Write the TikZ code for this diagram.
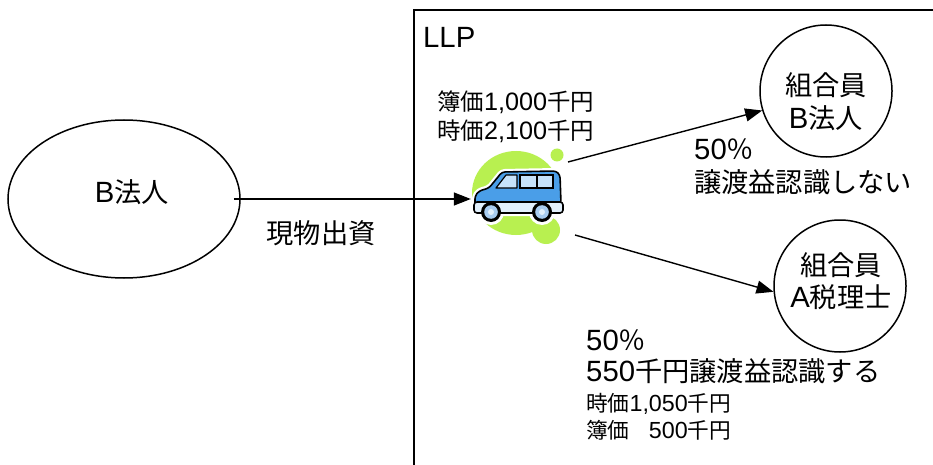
\documentclass[tikz,border=0pt]{standalone}
\usepackage{fontspec}
\setmainfont{Liberation Sans}
\newfontfamily\jp[Scale=0.93]{Noto Sans CJK JP}
\newcommand\J[1]{{\jp #1}}
\usetikzlibrary{shapes.geometric,arrows.meta}

\definecolor{carblue}{RGB}{74,158,232}
\definecolor{glass}{RGB}{198,226,250}
\definecolor{trim}{RGB}{226,240,252}
\definecolor{wheelhub}{RGB}{168,204,240}
\definecolor{leaf}{RGB}{184,240,80}

\tikzset{
  member/.style={circle, draw, line width=1.5pt, minimum size=132, inner sep=0},
  party/.style={ellipse, draw, line width=1.5pt, minimum width=232, minimum height=158, inner sep=0},
  lbl/.style={inner sep=0, font=\fontsize{29.3}{33}\selectfont},
  sml/.style={inner sep=0, font=\fontsize{25.2}{29}\selectfont},
  tiny/.style={inner sep=0, font=\fontsize{23.3}{27}\selectfont},
  flow/.style={line width=1.4pt, -{Triangle[length=17pt,width=13pt]}},
  outline/.style={draw=black, line width=1.6pt, line join=round},
}

\begin{document}
\begin{tikzpicture}[x=1pt, y=-1pt]
\useasboundingbox (0,0) rectangle (933,465);
\clip (0,0) rectangle (933,465);
\fill[white] (0,0) rectangle (933,465);

% LLP frame (runs past the right and bottom edges)
\draw[line width=1.4pt] (414,10) rectangle (950,480);
\node[lbl, anchor=base west] (llp) at (423,48) {LLP};

% contributing corporation
\node[party] (bcorp) at (124,199) {};
\node[lbl, anchor=base] (bname) at (132,202) {B\J{法人}};

% partners
\node[member] (m1) at (826,91) {};
\node[lbl, anchor=base] (m1a) at (826,96) {\J{組合員}};
\node[lbl, anchor=base] (m1b) at (826,129) {B\J{法人}};
\node[member] (m2) at (840,286) {};
\node[lbl, anchor=base] (m2a) at (841,275) {\J{組合員}};
\node[lbl, anchor=base] (m2b) at (841,307) {A\J{税理士}};

% contributed asset: a car on a green splash
\fill[leaf] (516,193) ellipse [x radius=44, y radius=42];
\fill[leaf] (546,230) circle [radius=14];
\fill[leaf] (557,155) circle [radius=6.5];

% white halo around the car
\draw[white, line width=6pt, line join=round, rounded corners=3]
  (475,206) -- (475,196) -- (479,191) -- (489,188) -- (502,172) -- (556,171) -- (560,175) -- (561,204) -- cycle;
\draw[white, line width=6pt, rounded corners=3] (474,202) rectangle (563,213);
\fill[white] (491,212) circle [radius=13];
\fill[white] (542,212) circle [radius=13];

% body
\draw[fill=carblue, outline, rounded corners=3]
  (475,206) -- (475,196) -- (479,191) -- (489,188) -- (502,172) -- (556,171) -- (560,175) -- (561,204) -- cycle;
% windows
\draw[fill=glass, line width=1.2pt, line join=round] (506,175) -- (517,175) -- (517,188) -- (496,188) -- cycle;
\draw[fill=glass, line width=1.2pt] (520,175) rectangle (553,188);
\draw[line width=1.2pt] (537,175) -- (537,188);
% lower trim
\draw[fill=trim, outline, rounded corners=3] (474,202) rectangle (563,213);
% wheels
\foreach \wx in {491,542} {
  \fill[black] (\wx,212) circle [radius=10];
  \fill[wheelhub] (\wx,212) circle [radius=6.8];
  \fill[trim] (\wx,212) circle [radius=3];
}

\node[inner sep=0, minimum width=97, minimum height=60] (car) at (519.5,199) {};
\coordinate (carUp) at (568,162);
\coordinate (carDown) at (575,235);

% asset values
\node[sml, anchor=base west] (book) at (437,111) {\J{簿価}1,000\J{千円}};
\node[sml, anchor=base west] (mkt) at (437,140) {\J{時価}2,100\J{千円}};

% flows
\draw[flow] ([xshift=-7]bcorp.east) -- (car.west);
\node[lbl, anchor=base] (contrib) at (321,243) {\J{現物出資}};
\draw[flow] (carUp) -- (m1.197);
\draw[flow] (carDown) -- (m2.185);

% share going to corporation B
\node[lbl, anchor=base west] (pctB) at (694,160) {50\J{％}};
\node[lbl, anchor=base west] (noGain) at (694,193) {\J{譲渡益認識しない}};

% share going to tax accountant A
\node[lbl, anchor=base west] (pctA) at (586,350) {50\J{％}};
\node[lbl, anchor=base west] (gain) at (586,381) {550\J{千円譲渡益認識する}};
\node[tiny, anchor=base west] (mktA) at (586,411) {\J{時価}1,050\J{千円}};
\node[tiny, anchor=base west] (bookA) at (586,438) {\J{簿価}};
\node[tiny, anchor=base east] (bookAv) at (mktA.base east |- bookA.base) {500\J{千円}};
\end{tikzpicture}
\end{document}
